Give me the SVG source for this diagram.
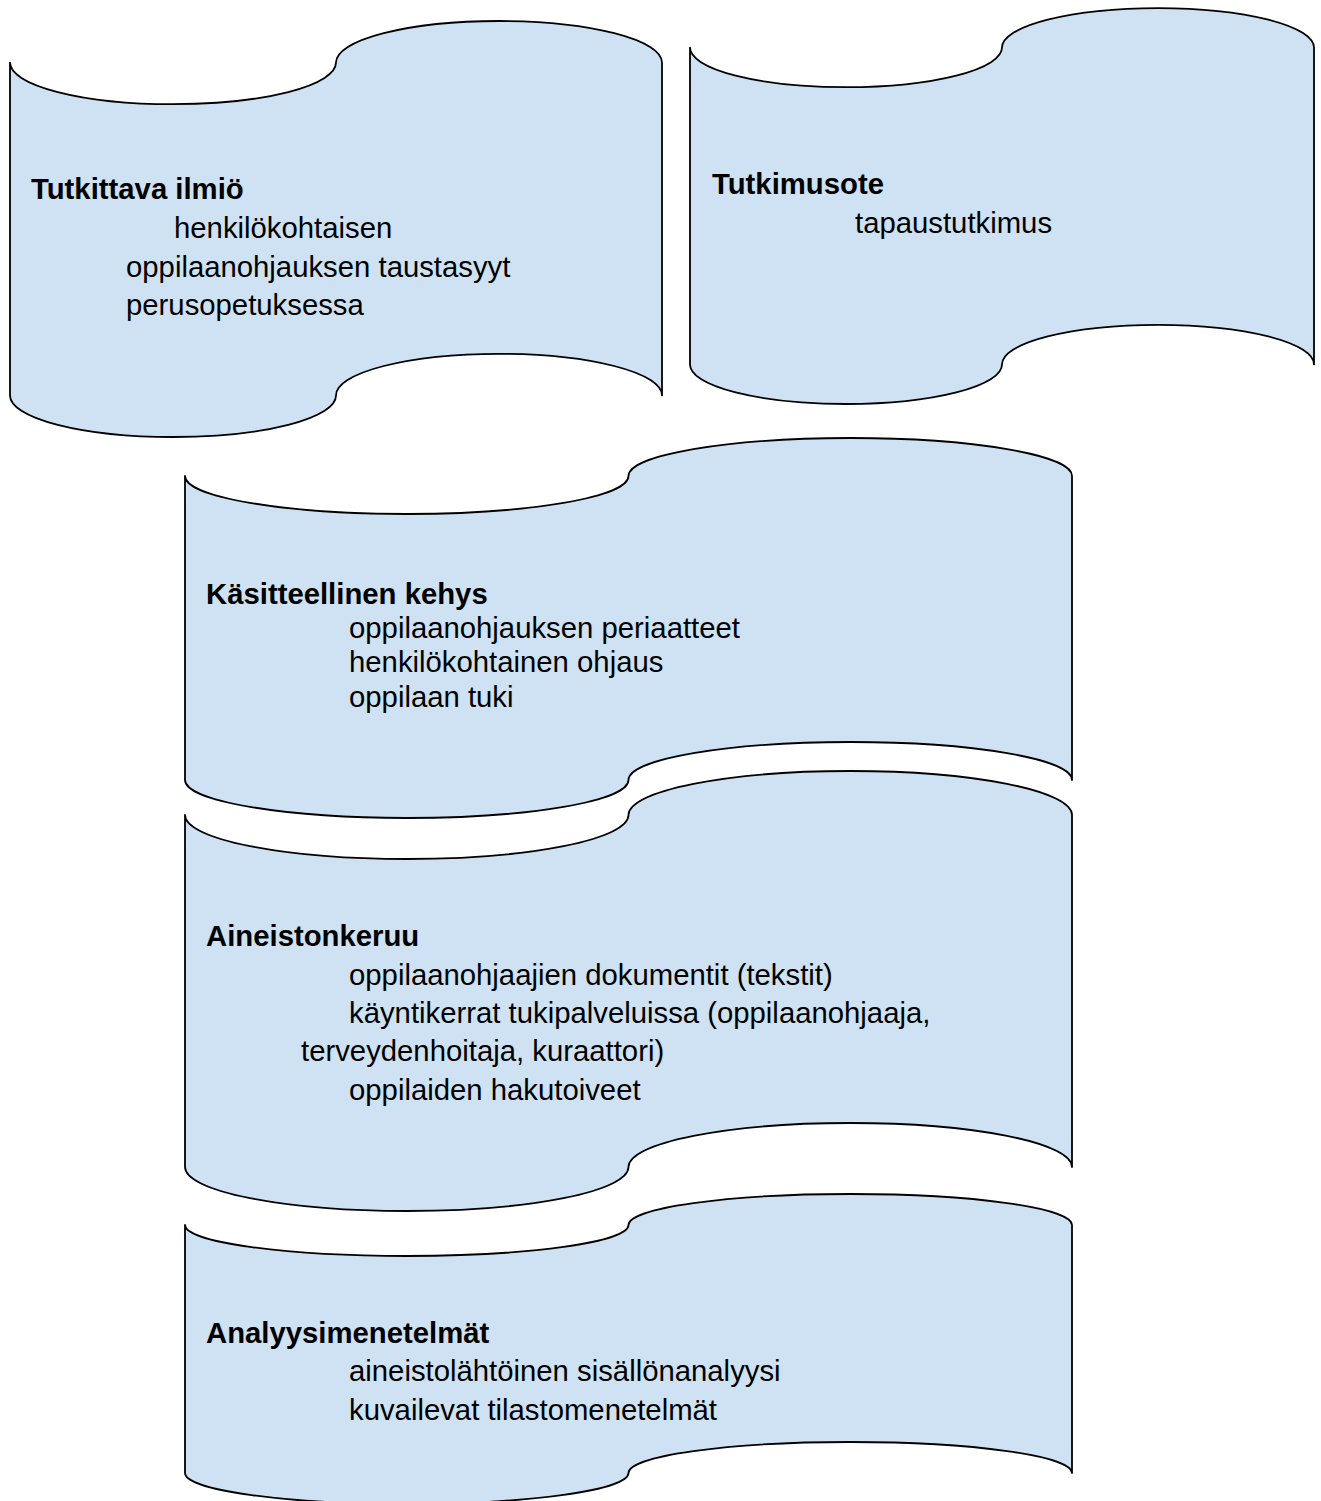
<svg xmlns="http://www.w3.org/2000/svg" width="1321" height="1501" viewBox="0 0 1321 1501">
<style>
.shape{fill:#CFE2F3;stroke:#000;stroke-width:1.8;stroke-linejoin:round}
text{font-family:"Liberation Sans",Arial,sans-serif;font-size:29.3px;fill:#000}
.h{font-weight:bold}
</style>
<rect width="1321" height="1501" fill="#fff"/>
<g id="node-tutkittava">
<path class="shape" d="M10,62.6 A163,41.6 0 0 0 336,62.6 A163,41.6 0 0 1 662,62.6 L662,395.4 A163,41.6 0 0 0 336,395.4 A163,41.6 0 0 1 10,395.4 Z"/>
<text class="h" x="31" y="199">Tutkittava ilmiö</text>
<text x="174" y="238">henkilökohtaisen</text>
<text x="126" y="277">oppilaanohjauksen taustasyyt</text>
<text x="126" y="315">perusopetuksessa</text>
</g>
<g id="node-tutkimusote">
<path class="shape" d="M690,47.6 A156,39.6 0 0 0 1002,47.6 A156,39.6 0 0 1 1314,47.6 L1314,364.4 A156,39.6 0 0 0 1002,364.4 A156,39.6 0 0 1 690,364.4 Z"/>
<text class="h" x="712" y="194">Tutkimusote</text>
<text x="855" y="233">tapaustutkimus</text>
</g>
<g id="node-kehys">
<path class="shape" d="M185,476 A221.75,38 0 0 0 628.5,476 A221.75,38 0 0 1 1072,476 L1072,780 A221.75,38 0 0 0 628.5,780 A221.75,38 0 0 1 185,780 Z"/>
<text class="h" x="206" y="604">Käsitteellinen kehys</text>
<text x="349" y="638">oppilaanohjauksen periaatteet</text>
<text x="349" y="672">henkilökohtainen ohjaus</text>
<text x="349" y="707">oppilaan tuki</text>
</g>
<g id="node-aineistonkeruu">
<path class="shape" d="M185,815 A221.75,44 0 0 0 628.5,815 A221.75,44 0 0 1 1072,815 L1072,1167 A221.75,44 0 0 0 628.5,1167 A221.75,44 0 0 1 185,1167 Z"/>
<text class="h" x="206" y="946">Aineistonkeruu</text>
<text x="349" y="985">oppilaanohjaajien dokumentit (tekstit)</text>
<text x="349" y="1023">käyntikerrat tukipalveluissa (oppilaanohjaaja,</text>
<text x="301" y="1061">terveydenhoitaja, kuraattori)</text>
<text x="349" y="1100">oppilaiden hakutoiveet</text>
</g>
<g id="node-analyysi">
<path class="shape" d="M185,1225 A221.75,31 0 0 0 628.5,1225 A221.75,31 0 0 1 1072,1225 L1072,1473 A221.75,31 0 0 0 628.5,1473 A221.75,31 0 0 1 185,1473 Z"/>
<text class="h" x="206" y="1343">Analyysimenetelmät</text>
<text x="349" y="1381">aineistolähtöinen sisällönanalyysi</text>
<text x="349" y="1420">kuvailevat tilastomenetelmät</text>
</g>
<g id="connectors"/>
</svg>
